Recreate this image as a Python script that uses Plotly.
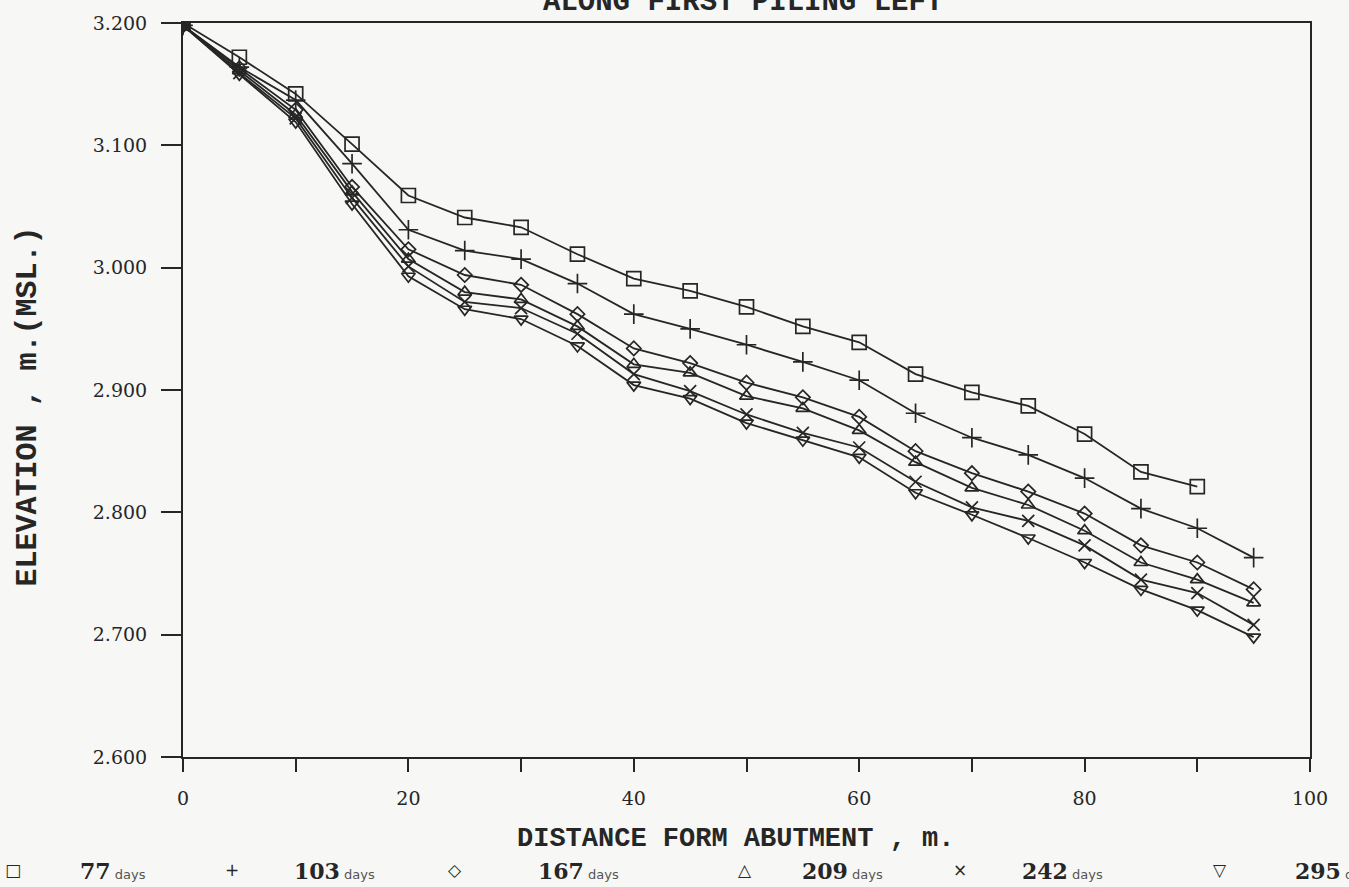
import plotly.graph_objects as go

distance = [0, 5, 10, 15, 20, 25, 30, 35, 40, 45, 50, 55, 60, 65, 70, 75, 80, 85, 90, 95]

elev_77 = [3.200, 3.172, 3.142, 3.101, 3.059, 3.041, 3.033, 3.011, 2.991, 2.981,
           2.968, 2.952, 2.939, 2.913, 2.898, 2.887, 2.864, 2.833, 2.821]
elev_103 = [3.198, 3.164, 3.137, 3.085, 3.031, 3.014, 3.007, 2.987, 2.962, 2.950,
            2.937, 2.923, 2.908, 2.881, 2.861, 2.847, 2.828, 2.803, 2.787, 2.763]
elev_167 = [3.198, 3.163, 3.129, 3.066, 3.015, 2.994, 2.986, 2.962, 2.934, 2.922,
            2.906, 2.894, 2.878, 2.850, 2.832, 2.817, 2.799, 2.773, 2.759, 2.737]
elev_209 = [3.198, 3.161, 3.125, 3.062, 3.007, 2.980, 2.974, 2.952, 2.921, 2.914,
            2.895, 2.885, 2.867, 2.841, 2.820, 2.806, 2.785, 2.759, 2.745, 2.726]
elev_242 = [3.198, 3.159, 3.122, 3.057, 3.001, 2.972, 2.967, 2.946, 2.913, 2.899,
            2.880, 2.865, 2.853, 2.825, 2.804, 2.793, 2.773, 2.745, 2.734, 2.708]
elev_295 = [3.198, 3.158, 3.119, 3.052, 2.993, 2.966, 2.958, 2.936, 2.904, 2.893,
            2.873, 2.859, 2.845, 2.816, 2.798, 2.779, 2.759, 2.737, 2.720, 2.698]

series_names = ["77", "103", "167", "209", "242", "295"]
series_values = [elev_77, elev_103, elev_167, elev_209, elev_242, elev_295]
series_symbols = ["square-open", "cross-thin-open", "diamond-open",
                  "triangle-up-open", "x-thin-open", "triangle-down-open"]
series_sizes = [14, 14, 11, 12, 12, 12]
legend_glyphs = ["\u25a1", "+", "\u25c7", "\u25b3", "\u00d7", "\u25bd"]
legend_labels = ["77", "103", "167", "209", "242", "295"]

y_ticks = [2.6, 2.7, 2.8, 2.9, 3.0, 3.1, 3.2]
y_ticktext = ["2.600", "2.700", "2.800", "2.900", "3.000", "3.100", "3.200"]
x_ticks = [0, 10, 20, 30, 40, 50, 60, 70, 80, 90, 100]
x_ticktext = ["0", "", "20", "", "40", "", "60", "", "80", "", "100"]

W, H = 1349, 887
L, R, T, B = 183, 1310, 20, 757

def px(x):
    return (x - L) / (R - L)

def py(y):
    return (B - y) / (B - T)

ink = "#262626"
serif = "DejaVu Serif"
mono = "Liberation Mono"

fig = go.Figure()
for name, vals, sym, sz in zip(series_names, series_values, series_symbols, series_sizes):
    fig.add_trace(go.Scatter(
        x=distance[:len(vals)], y=vals, mode="lines+markers", name=name + " days",
        line=dict(color=ink, width=1.8),
        marker=dict(symbol=sym, size=sz, color=ink, line=dict(color=ink, width=1.7)),
    ))

fig.update_layout(
    width=W, height=H,
    margin=dict(l=L, r=W - R, t=T, b=H - B, pad=0),
    paper_bgcolor="#f7f7f5", plot_bgcolor="#f7f7f5",
    showlegend=False,
    font=dict(family=serif, color=ink),
)
fig.update_xaxes(
    range=[0, 100], tickvals=x_ticks, ticktext=x_ticktext,
    showgrid=False, zeroline=False,
    showline=True, linecolor=ink, linewidth=2, mirror=True,
    ticks="outside", ticklen=13, tickwidth=2, tickcolor=ink,
    tickfont=dict(family=serif, size=19, color=ink), ticklabelstandoff=10,
)
fig.update_yaxes(
    range=[2.6, 3.2], tickvals=y_ticks, ticktext=y_ticktext,
    showgrid=False, zeroline=False,
    showline=True, linecolor=ink, linewidth=2, mirror=True,
    ticks="outside", ticklen=20, tickwidth=2, tickcolor=ink,
    tickfont=dict(family=serif, size=19, color=ink), ticklabelstandoff=10,
)

ann = []
# title, cut off at the top edge as in the reference
ann.append(dict(text="<b>ALONG FIRST PILING LEFT</b>", x=px(743), y=py(-1), xref="paper", yref="paper",
                showarrow=False, font=dict(family=mono, size=29, color=ink),
                xanchor="center", yanchor="middle"))
# axis titles
ann.append(dict(text="<b>DISTANCE FORM ABUTMENT , m.</b>", x=px(735), y=py(839), xref="paper", yref="paper",
                showarrow=False, font=dict(family=mono, size=27, color=ink),
                xanchor="center", yanchor="middle"))
ann.append(dict(text="<b>ELEVATION , m.(MSL.)</b>", x=px(28), y=py(405), xref="paper", yref="paper",
                showarrow=False, textangle=-90, font=dict(family=mono, size=30, color=ink),
                xanchor="center", yanchor="middle"))

# legend row
glyph_x = [13, 232, 455, 745, 960, 1220]
num_x = [78, 292, 536, 800, 1020, 1293]
for g, lab, gx, nx in zip(legend_glyphs, legend_labels, glyph_x, num_x):
    ann.append(dict(text=g, x=px(gx), y=py(870), xref="paper", yref="paper", showarrow=False,
                    font=dict(family="DejaVu Sans", size=17, color=ink),
                    xanchor="center", yanchor="middle"))
    ann.append(dict(text="<b>" + lab + "</b>" + "<span style='font-family:DejaVu Sans;font-size:13px;color:#555'> days</span>",
                    x=px(nx), y=py(871), xref="paper", yref="paper", showarrow=False,
                    font=dict(family=serif, size=22, color=ink),
                    xanchor="left", yanchor="middle"))
fig.update_layout(annotations=ann)

fig.write_html("out.html")
